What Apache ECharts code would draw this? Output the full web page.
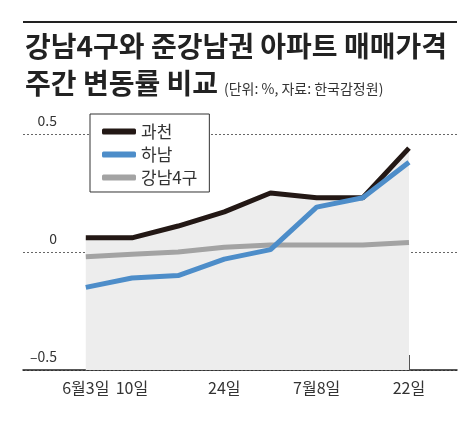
<!DOCTYPE html>
<html><head><meta charset="utf-8">
<script src="https://cdn.jsdelivr.net/npm/echarts@6/dist/echarts.min.js"></script>
<style>html,body{margin:0;padding:0;background:#fff}#c{width:474px;height:427px}</style>
</head><body><div id="c"></div>
<script>
const weeks = ['6월3일', '10일', '17일', '24일', '7월1일', '7월8일', '15일', '22일'];
const shownTicks = [0, 1, 3, 5, 7];
const gwacheon = [0.06, 0.06, 0.11, 0.17, 0.25, 0.23, 0.23, 0.44];
const hanam = [-0.15, -0.11, -0.10, -0.03, 0.01, 0.19, 0.23, 0.38];
const gangnam4 = [-0.02, -0.01, 0.00, 0.02, 0.03, 0.03, 0.03, 0.04];

const pts = arr => arr.map((v, i) => [i, v]);
const font = "'Noto Sans CJK KR', sans-serif";

const chart = echarts.init(document.getElementById('c'));
chart.setOption({
  animation: false,
  textStyle: { fontFamily: font },
  graphic: [
    { type: 'line', shape: { x1: 23, y1: 22, x2: 457, y2: 22 }, style: { stroke: '#222', lineWidth: 2 } },
    { type: 'text', left: 25, top: 32, style: { text: '강남4구와 준강남권 아파트 매매가격', font: "bold 28px 'Noto Sans CJK KR'", fill: '#222' } },
    { type: 'text', left: 25, top: 69, style: { text: '주간 변동률 비교', font: "bold 28px 'Noto Sans CJK KR'", fill: '#222' } },
    { type: 'text', left: 224, top: 82, style: { text: '(단위: %, 자료: 한국감정원)', font: "14px 'Noto Sans CJK KR'", fill: '#333' } }
  ],
  legend: {
    left: 90, top: 114, orient: 'vertical',
    backgroundColor: '#fff', borderColor: '#333', borderWidth: 1,
    padding: [9, 12, 6, 12], itemGap: 6,
    itemWidth: 34, itemHeight: 6, icon: 'roundRect',
    textStyle: { fontSize: 17, color: '#333', fontFamily: font },
    data: ['과천', '하남', '강남4구']
  },
  grid: { left: 23, right: 17, top: 134, bottom: 57 },
  xAxis: {
    type: 'value', min: -1.36, max: 8.04,
    splitLine: { show: false },
    axisLine: { onZero: false, lineStyle: { color: '#222', width: 1.5 } },
    axisTick: { inside: true, length: 15, lineStyle: { color: '#555' }, customValues: shownTicks },
    axisLabel: { fontSize: 16, color: '#333', margin: 10, customValues: shownTicks,
      formatter: v => weeks[Math.round(v)] }
  },
  yAxis: {
    type: 'value', min: -0.5, max: 0.5, interval: 0.5,
    axisLine: { show: false }, axisTick: { show: false },
    splitLine: { lineStyle: { type: [2, 2], color: '#666' } },
    axisLabel: { inside: true, align: 'right', margin: 34, verticalAlign: 'bottom',
      padding: [0, 0, 6, 0], fontSize: 14, color: '#333',
      formatter: v => v < 0 ? '–0.5' : String(v) }
  },
  series: [
    { name: '과천', type: 'line', data: pts(gwacheon), showSymbol: false, z: 3,
      lineStyle: { width: 5, color: '#231815' }, itemStyle: { color: '#231815' },
      areaStyle: { origin: 'start', color: '#ededed', opacity: 1 } },
    { name: '강남4구', type: 'line', data: pts(gangnam4), showSymbol: false, z: 4,
      lineStyle: { width: 5, color: '#a3a3a3' }, itemStyle: { color: '#a3a3a3' } },
    { name: '하남', type: 'line', data: pts(hanam), showSymbol: false, z: 5,
      lineStyle: { width: 5, color: '#4d8dc9' }, itemStyle: { color: '#4d8dc9' } }
  ]
});
</script></body></html>
